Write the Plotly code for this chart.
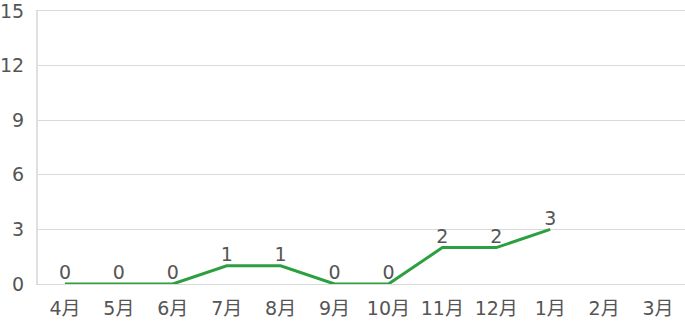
import plotly.graph_objects as go

months = ["4月", "5月", "6月", "7月", "8月", "9月", "10月", "11月", "12月", "1月", "2月", "3月"]
values = [0, 0, 0, 1, 1, 0, 0, 2, 2, 3, None, None]
y_ticks = [0, 3, 6, 9, 12, 15]

font_family = "DejaVu Sans, Noto Sans CJK JP, sans-serif"
text_color = "#555555"

fig = go.Figure()
fig.add_trace(go.Scatter(
    x=months, y=values,
    mode="lines+text",
    line=dict(color="#2ca040", width=3),
    text=[str(v) if v is not None else "" for v in values],
    textposition="top center",
    textfont=dict(family=font_family, size=19, color=text_color),
    cliponaxis=False,
    hoverinfo="skip",
))

fig.update_layout(
    width=685, height=323,
    margin=dict(l=36, r=0, t=7, b=39),
    plot_bgcolor="white", paper_bgcolor="white",
    showlegend=False,
    font=dict(family=font_family, color=text_color),
)
fig.update_xaxes(
    type="category",
    categoryorder="array", categoryarray=months,
    range=[-0.5, 11.5],
    showgrid=False, zeroline=False,
    showline=True, mirror=True, linecolor="#d9d9d9", linewidth=1,
    ticks="outside", ticklen=7, tickcolor="rgba(0,0,0,0)",
    tickfont=dict(family=font_family, size=19, color=text_color),
)
fig.update_yaxes(
    range=[0, 15],
    tickvals=y_ticks,
    ticklabeloverflow="allow",
    showgrid=True, gridcolor="#d9d9d9", gridwidth=1,
    zeroline=False,
    showline=True, linecolor="#e0e0e0", linewidth=2,
    ticks="outside", ticklen=8, tickcolor="rgba(0,0,0,0)",
    tickfont=dict(family=font_family, size=19, color=text_color),
)

fig.write_html("out.html")
